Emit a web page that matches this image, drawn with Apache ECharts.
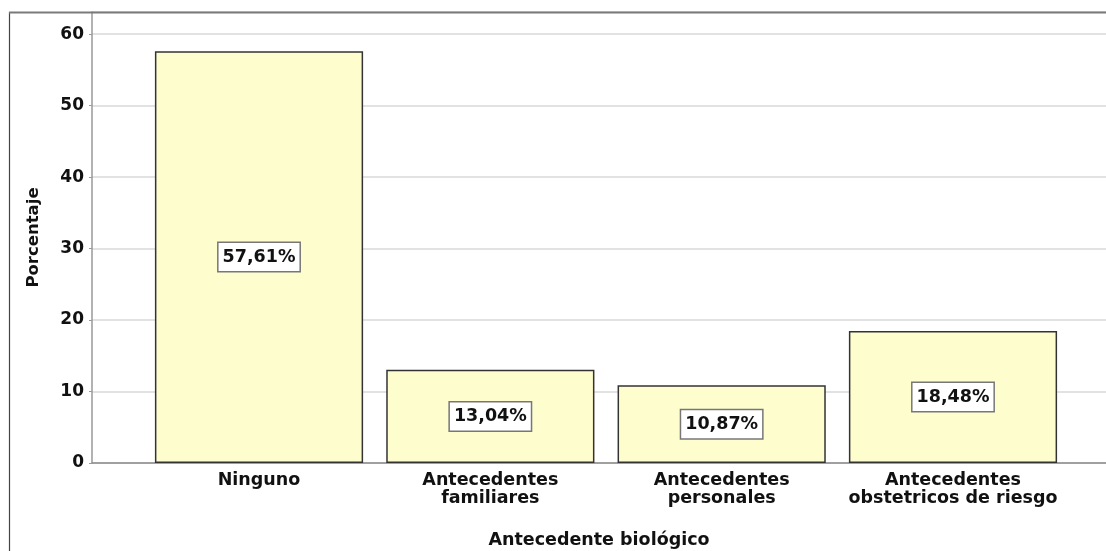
<!DOCTYPE html>
<html>
<head>
<meta charset="utf-8">
<script src="https://cdn.jsdelivr.net/npm/echarts@6/dist/echarts.min.js"></script>
<style>
html,body{margin:0;padding:0;background:#fff;}
#chart{width:1106px;height:551px;}
</style>
</head>
<body>
<div id="chart"></div>
<script>
// datos
var categorias=['Ninguno','Antecedentes\nfamiliares','Antecedentes\npersonales','Antecedentes\nobstetricos de riesgo'];
var porcentajes=[57.61,13.04,10.87,18.48];
var yMax=63.1;

var mychart=echarts.init(document.getElementById('chart'));
var fuente='DejaVu Sans';
var option={
	animation:false,
	backgroundColor:'#fff',
	grid:[
		{left:92,right:0,top:12,bottom:88,outerBoundsMode:'none',containLabel:false},
		{left:143.35,width:925.3,top:12,bottom:88,outerBoundsMode:'none',containLabel:false}
	],
	xAxis:[
		{
			gridIndex:0,type:'value',min:0,max:1,
			name:'Antecedente biológico',nameLocation:'middle',nameGap:68,
			nameTextStyle:{fontFamily:fuente,fontWeight:'bold',fontSize:17.5,color:'#111'},
			axisLine:{show:true,lineStyle:{color:'#8a8a8a',width:1.5}},
			axisTick:{show:false},axisLabel:{show:false},splitLine:{show:false}
		},
		{
			gridIndex:1,type:'category',data:categorias,
			axisLine:{show:false},axisTick:{show:false},
			axisLabel:{
				fontFamily:fuente,fontWeight:'bold',fontSize:17.5,color:'#111',
				lineHeight:18,margin:8,interval:0
			}
		}
	],
	yAxis:[
		{
			gridIndex:0,type:'value',min:0,max:yMax,interval:10,
			name:'Porcentaje',nameLocation:'middle',nameGap:50,
			nameTextStyle:{fontFamily:fuente,fontWeight:'bold',fontSize:16.5,color:'#111'},
			axisLine:{show:true,lineStyle:{color:'#999',width:1.5}},
			axisTick:{show:true,length:3,lineStyle:{color:'#999'}},
			axisLabel:{fontFamily:fuente,fontWeight:'bold',fontSize:17,color:'#111',margin:8,showMaxLabel:false},
			splitLine:{show:true,lineStyle:{color:'#d9d9d9',width:1.5}}
		},
		{
			gridIndex:1,type:'value',min:0,max:yMax,show:false,splitLine:{show:false}
		}
	],
	series:[
		{
			type:'bar',xAxisIndex:1,yAxisIndex:1,
			data:porcentajes,
			barCategoryGap:'10%',
			itemStyle:{color:'#fefdcd',borderColor:'#333',borderWidth:1.5},
			label:{
				show:true,position:'inside',
				formatter:function(p){return p.value.toFixed(2).replace('.',',')+'%';},
				fontFamily:fuente,fontWeight:'bold',fontSize:17.5,color:'#111',
				backgroundColor:'#fff',borderColor:'#777',borderWidth:1.5,
				padding:[4,4,3,4],lineHeight:21
			}
		}
	],
	graphic:[
		{type:'line',shape:{x1:9.5,y1:12,x2:9.5,y2:551},style:{stroke:'#444',lineWidth:1.2},z:100},
		{type:'line',shape:{x1:9,y1:12.5,x2:1106,y2:12.5},style:{stroke:'#7a7a7a',lineWidth:1.8},z:100}
	]
};
mychart.setOption(option);
</script>
</body>
</html>
